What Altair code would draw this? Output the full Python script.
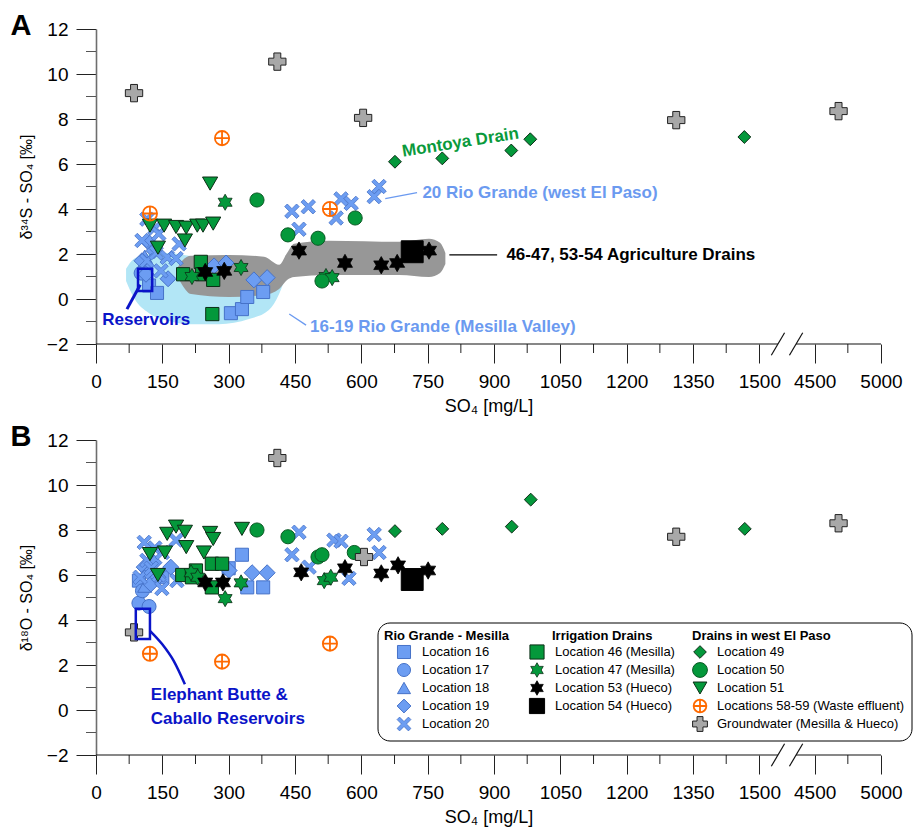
import altair as alt
import pandas as pd

# ------------------------------------------------------------------
# Values: SO4 [mg/L] and isotope value [permil]
# ------------------------------------------------------------------
GROUPS = ["Location 16", "Location 17", "Location 18", "Location 19", "Location 20",
          "Location 46 (Mesilla)", "Location 47 (Mesilla)", "Location 53 (Hueco)", "Location 54 (Hueco)",
          "Location 49", "Location 50", "Location 51",
          "Locations 58-59 (Waste effluent)", "Groundwater (Mesilla & Hueco)"]

# ---- Panel A: d34S-SO4 ----
A_16_so4 = [120, 138, 305, 330, 342, 378]
A_16_val = [0.6, 0.27, -0.63, -0.45, 0.09, 0.31]
A_17_so4 = [102, 112]
A_17_val = [1.15, 1.5]
A_18_so4 = [110]
A_18_val = [1.9]
A_19_so4 = [104, 113, 120, 131, 163, 267, 294, 357, 387]
A_19_val = [1.7, 1.1, 2.5, 2.15, 0.9, 1.47, 1.6, 0.85, 0.95]
A_20_so4 = [104, 115, 115, 133, 136, 142, 147, 161, 181, 188, 443, 459, 480, 543, 554, 577, 629, 640]
A_20_val = [2.6, 3.55, 1.7, 3.15, 2.05, 2.9, 1.25, 1.85, 1.8, 2.45, 3.9, 3.1, 4.1, 3.6, 4.45, 4.25, 4.55, 5.0]
A_46_so4 = [197, 237, 240, 263, 265]
A_46_val = [1.1, 1.65, 1.1, -0.67, 0.85]
A_47_so4 = [217, 292, 328, 520, 534]
A_47_val = [1.0, 4.3, 1.4, 1.0, 0.95]
A_53_so4 = [247, 290, 459, 563, 645, 681, 753]
A_53_val = [1.2, 1.25, 2.15, 1.6, 1.5, 1.6, 2.15]
A_54_so4 = [715]
A_54_val = [2.1]
A_49_so4 = [676, 783, 939, 982, 1466]
A_49_val = [6.1, 6.25, 6.6, 7.1, 7.2]
A_50_so4 = [364, 434, 502, 511, 586]
A_50_val = [4.4, 2.85, 2.7, 0.8, 3.6]
A_51_so4 = [122, 140, 154, 181, 201, 204, 229, 242, 258, 265]
A_51_val = [3.26, 2.28, 3.26, 3.2, 2.6, 3.17, 3.26, 3.26, 5.13, 3.35]
A_58_so4 = [122, 285, 529]
A_58_val = [3.8, 7.15, 4.0]
A_GW_so4 = [86, 410, 604, 1312, 4680]
A_GW_val = [9.15, 10.55, 8.05, 7.95, 8.35]

# ---- Panel B: d18O-SO4 ----
B_16_so4 = [97, 150, 300, 330, 342, 378]
B_16_val = [5.75, 5.9, 6.3, 6.9, 5.45, 5.45]
B_17_so4 = [97, 105, 120]
B_17_val = [4.75, 5.3, 4.6]
B_18_so4 = [110]
B_18_val = [5.5]
B_19_so4 = [109, 120, 124, 131, 140, 169, 301, 353, 387]
B_19_val = [6.35, 6.1, 5.6, 6.55, 5.9, 6.35, 6.2, 6.1, 6.1]
B_20_so4 = [100, 109, 115, 125, 133, 142, 149, 150, 181, 183, 443, 459, 482, 538, 554, 572, 629, 640]
B_20_val = [5.9, 7.45, 6.65, 6.3, 7.2, 6.0, 5.4, 7.0, 7.55, 5.75, 6.9, 7.9, 6.35, 7.55, 7.5, 5.85, 7.8, 7.0]
B_46_so4 = [195, 217, 226, 262, 262, 285]
B_46_val = [6.0, 5.9, 6.2, 6.5, 5.45, 6.5]
B_47_so4 = [215, 230, 292, 328, 516, 531]
B_47_val = [6.1, 5.9, 4.95, 5.65, 5.75, 5.9]
B_53_so4 = [247, 287, 464, 563, 645, 683, 751]
B_53_val = [5.67, 5.67, 6.12, 6.3, 6.07, 6.43, 6.2]
B_54_so4 = [715]
B_54_val = [5.8]
B_49_so4 = [676, 783, 940, 983, 1467]
B_49_val = [7.95, 8.05, 8.15, 9.35, 8.05]
B_50_so4 = [364, 434, 502, 511, 584]
B_50_val = [8.0, 7.7, 6.8, 6.9, 7.0]
B_51_so4 = [122, 140, 156, 161, 181, 201, 204, 244, 258, 265, 330]
B_51_val = [6.93, 6.0, 7.0, 7.83, 8.15, 7.92, 7.24, 7.0, 7.87, 7.6, 8.05]
B_58_so4 = [122, 285, 529]
B_58_val = [2.5, 2.15, 2.95]
B_GW_so4 = [86, 410, 606, 1312, 4680]
B_GW_val = [3.45, 11.2, 6.8, 7.7, 8.3]

# x tick labels (broken axis)
X_TICKS = [0, 150, 300, 450, 600, 750, 900, 1050, 1200, 1350, 1500, 4500, 5000]

# annotation outlines in panel A (SO4, delta)
BLUE_BLOB_X = [68, 86, 120, 165, 210, 278, 346, 391, 414, 423]
BLUE_BLOB_TOP = [1.34, 1.79, 2.0, 2.05, 1.92, 1.79, 1.56, 1.43, 1.25, 0.85]
BLUE_BLOB_BOT = [0.8, 0.04, -0.63, -0.98, -1.12, -1.12, -0.89, -0.49, 0.22, 0.67]
GRAY_BLOB_X = [183, 195, 215, 301, 380, 414, 432, 448, 527, 686, 753, 778, 790]
GRAY_BLOB_TOP = [1.34, 1.70, 1.92, 1.96, 1.875, 1.52, 2.05, 2.46, 2.59, 2.54, 2.68, 2.5, 2.05]
GRAY_BLOB_BOT = [1.07, 0.625, 0.22, 0.09, 0.18, 0.45, 0.85, 0.98, 1.07, 1.07, 0.98, 1.16, 1.56]

# ------------------------------------------------------------------
# Styling / layout
# ------------------------------------------------------------------
FONT = "Liberation Sans"
W, H = 785, 315
XMAX = 1775
LEFT = 97


def brk(v):
    """map SO4 onto the broken axis (linear to 1500, compressed 4500-5000)"""
    return v if v <= 1500 else 1625 + (v - 4500) * 0.3


def px2x(px):
    return (px - LEFT) * XMAX / W


def px2y(py, top):
    return 12 - (py - top) * 14 / H


BLUE, BLUE_D = "#6c9df2", "#4672c8"
GREEN, GREEN_D = "#04983b", "#0c2e16"
XPATH = "M-1,-0.64L-0.64,-1L0,-0.36L0.64,-1L1,-0.64L0.36,0L1,0.64L0.64,1L0,0.36L-0.64,1L-1,0.64L-0.36,0Z"
STAR = ("M0,-1L0.289,-0.5L0.866,-0.5L0.577,0L0.866,0.5L0.289,0.5L0,1L-0.289,0.5"
        "L-0.866,0.5L-0.577,0L-0.866,-0.5L-0.289,-0.5Z")
CPLUS = "M-0.9,0A0.9,0.9 0 1,1 0.9,0A0.9,0.9 0 1,1 -0.9,0ZM-0.9,0L0.9,0M0,-0.9L0,0.9"

SHAPES = ["square", "circle", "triangle-up", "diamond", XPATH, "square", STAR, STAR, "square",
          "diamond", "circle", "triangle-down", CPLUS, "cross"]
FILLS = [BLUE] * 5 + [GREEN, GREEN, "#000000", "#000000", GREEN, GREEN, GREEN, "transparent", "#a8a8a8"]
STROKES = [BLUE_D] * 5 + [GREEN_D, GREEN_D, "#000000", "#000000", GREEN_D, "#0b5a25", GREEN_D,
                          "#ff6a00", "#222222"]
PT_SIZE = [170, 196, 196, 256, 210, 175, 260, 300, 480, 165, 200, 230, 250, 300]
LG_SIZE = [170, 170, 170, 190, 190, 200, 210, 210, 230, 160, 220, 190, 200, 220]
SW = [1, 1, 1, 1, 0.8, 1, 0.8, 0.8, 1, 1, 1, 1, 1.8, 1]
DRAW_ORDER = [0, 1, 2, 3, 4, 5, 6, 9, 10, 11, 7, 8, 12, 13]

SHAPE = alt.Shape("group:N", scale=alt.Scale(domain=GROUPS, range=SHAPES), legend=None)
FILL = alt.Fill("group:N", scale=alt.Scale(domain=GROUPS, range=FILLS), legend=None)
STROKE = alt.Stroke("group:N", scale=alt.Scale(domain=GROUPS, range=STROKES), legend=None)


def points_df(sets):
    rows = []
    for gi in DRAW_ORDER:
        xs, ys = sets[gi]
        for a, b in zip(xs, ys):
            rows.append(dict(group=GROUPS[gi], xp=brk(a), yv=b, sz=PT_SIZE[gi], sw=SW[gi]))
    return pd.DataFrame(rows)


A_SETS = [(A_16_so4, A_16_val), (A_17_so4, A_17_val), (A_18_so4, A_18_val), (A_19_so4, A_19_val),
          (A_20_so4, A_20_val), (A_46_so4, A_46_val), (A_47_so4, A_47_val), (A_53_so4, A_53_val),
          (A_54_so4, A_54_val), (A_49_so4, A_49_val), (A_50_so4, A_50_val), (A_51_so4, A_51_val),
          (A_58_so4, A_58_val), (A_GW_so4, A_GW_val)]
B_SETS = [(B_16_so4, B_16_val), (B_17_so4, B_17_val), (B_18_so4, B_18_val), (B_19_so4, B_19_val),
          (B_20_so4, B_20_val), (B_46_so4, B_46_val), (B_47_so4, B_47_val), (B_53_so4, B_53_val),
          (B_54_so4, B_54_val), (B_49_so4, B_49_val), (B_50_so4, B_50_val), (B_51_so4, B_51_val),
          (B_58_so4, B_58_val), (B_GW_so4, B_GW_val)]

TICK_POS = [brk(v) for v in X_TICKS]
LABEL_EXPR = " : ".join(
    [f"datum.value == {brk(v)} ? '{v}'" for v in X_TICKS if v > 1500] + ["datum.label"])

XAXIS = alt.Axis(values=TICK_POS, labelExpr=LABEL_EXPR, format="d", domain=False, grid=False,
                 tickSize=19, tickColor="#222", tickWidth=1, labelFontSize=19, labelPadding=9,
                 labelOverlap=False, labelFlush=False, title="SO₄ [mg/L]", titleFontSize=18,
                 titleFontWeight="normal", titlePadding=6)


def yaxis(title):
    return alt.Axis(values=list(range(-2, 13, 2)), grid=False, domainColor="#6e6e6e", domainWidth=1.6,
                    tickSize=20, tickColor="#222", tickWidth=1, labelFontSize=19, labelPadding=8,
                    title=title, titleFontSize=16, titleFontWeight="normal", titlePadding=12)


def build_panel(sets, ytitle, letter, top_px, panel_a):
    X = alt.X("xp:Q", scale=alt.Scale(domain=[0, XMAX], nice=False, zero=False), axis=XAXIS)
    Y = alt.Y("yv:Q", scale=alt.Scale(domain=[-2, 12], nice=False, zero=False), axis=yaxis(ytitle))
    X2 = alt.X2("xp2:Q")
    Y2 = alt.Y2("yv2:Q")
    layers = []

    if panel_a:
        blue = pd.DataFrame({"xp": BLUE_BLOB_X, "yv": BLUE_BLOB_TOP, "yv2": BLUE_BLOB_BOT})
        layers.append(alt.Chart(blue).mark_area(color="#b2e6f6", interpolate="monotone")
                      .encode(x=X, y=Y, y2=Y2))
        gray = pd.DataFrame({"xp": GRAY_BLOB_X, "yv": GRAY_BLOB_TOP, "yv2": GRAY_BLOB_BOT})
        layers.append(alt.Chart(gray).mark_area(color="#979797", interpolate="monotone")
                      .encode(x=X, y=Y, y2=Y2))

    # minor ticks
    xminor = [75 + 150 * i for i in range(10)] + [brk(4750)]
    mx = pd.DataFrame({"xp": xminor, "yv": [-2] * len(xminor), "yv2": [-2 - 9 * 14 / H] * len(xminor)})
    layers.append(alt.Chart(mx).mark_rule(color="#222", strokeWidth=1).encode(x=X, y=Y, y2=Y2))
    yminor = list(range(-1, 12, 2))
    my = pd.DataFrame({"xp": [0] * len(yminor), "xp2": [-10 * XMAX / W] * len(yminor), "yv": yminor})
    layers.append(alt.Chart(my).mark_rule(color="#555", strokeWidth=1).encode(x=X, x2=X2, y=Y))

    # broken x-axis line and break marks
    ax = pd.DataFrame({"xp": [0, 1583, 1527, 1568], "xp2": [1542, XMAX, 1557, 1598],
                       "yv": [-2, -2, -2.5, -2.5], "yv2": [-2, -2, -1.5, -1.5]})
    layers.append(alt.Chart(ax).mark_rule(color="#111", strokeWidth=1.2)
                  .encode(x=X, x2=X2, y=Y, y2=Y2))

    # data points
    pts = points_df(sets)
    layers.append(alt.Chart(pts).mark_point(filled=True, opacity=1).encode(
        x=X, y=Y, shape=SHAPE, fill=FILL, stroke=STROKE,
        size=alt.Size("sz:Q", scale=None), strokeWidth=alt.StrokeWidth("sw:Q", scale=None)))

    RES = "#0a14c8"
    if panel_a:
        rect = pd.DataFrame({"xp": [95], "xp2": [127], "yv": [1.34], "yv2": [0.36]})
        layers.append(alt.Chart(rect).mark_rect(fill="transparent", stroke=RES, strokeWidth=2.5)
                      .encode(x=X, x2=X2, y=Y, y2=Y2))
        lead = pd.DataFrame({
            "xp": [100, 654, 799, 437],
            "xp2": [70, 726, 907, 475],
            "yv": [0.63, 4.46, 1.96, -0.67],
            "yv2": [-0.45, 4.73, 1.96, -1.16],
            "col": [RES, "#6b9af0", "#000000", "#6b9af0"],
            "w": [3, 1.3, 1.3, 1.3]})
        layers.append(alt.Chart(lead).mark_rule().encode(
            x=X, x2=X2, y=Y, y2=Y2, color=alt.Color("col:N", scale=None),
            strokeWidth=alt.StrokeWidth("w:Q", scale=None)))
        notes = pd.DataFrame({
            "xp": [14, 738, 928, 484],
            "yv": [-0.94, 4.73, 1.96, -1.25],
            "txt": ["Reservoirs", "20 Rio Grande (west El Paso)", "46-47, 53-54 Agriculture Drains",
                    "16-19 Rio Grande (Mesilla Valley)"],
            "col": [RES, "#6b9af0", "#000000", "#6b9af0"]})
        layers.append(alt.Chart(notes).mark_text(align="left", baseline="middle", font=FONT,
                                                 fontSize=17, fontWeight="bold")
                      .encode(x=X, y=Y, text="txt:N", color=alt.Color("col:N", scale=None)))
        mont = pd.DataFrame({"xp": [824], "yv": [6.95], "txt": ["Montoya Drain"]})
        layers.append(alt.Chart(mont).mark_text(align="center", baseline="middle", font=FONT,
                                                fontSize=17, fontWeight="bold", angle=351,
                                                color="#0a9a3c")
                      .encode(x=X, y=Y, text="txt:N"))
    else:
        rect = pd.DataFrame({"xp": [90], "xp2": [122], "yv": [4.5], "yv2": [3.16]})
        layers.append(alt.Chart(rect).mark_rect(fill="transparent", stroke=RES, strokeWidth=2.5)
                      .encode(x=X, x2=X2, y=Y, y2=Y2))
        curve = pd.DataFrame({"xp": [122, 149, 176, 201], "yv": [3.52, 2.94, 2.17, 1.14],
                              "o": [0, 1, 2, 3]})
        layers.append(alt.Chart(curve).mark_line(color=RES, strokeWidth=2.5, interpolate="monotone")
                      .encode(x=X, y=Y, order="o:Q"))
        notes = pd.DataFrame({"xp": [124, 124], "yv": [0.65, -0.38],
                              "txt": ["Elephant Butte &", "Caballo Reservoirs"]})
        layers.append(alt.Chart(notes).mark_text(align="left", baseline="middle", font=FONT,
                                                 fontSize=17, fontWeight="bold", color=RES)
                      .encode(x=X, y=Y, text="txt:N"))

        # legend box
        box = pd.DataFrame({"a": [0]})
        layers.append(alt.Chart(box).mark_rect(cornerRadius=12, fill="white", stroke="#000",
                                               strokeWidth=1)
                      .encode(x=alt.value(379 - LEFT), x2=alt.value(913 - LEFT),
                              y=alt.value(624 - top_px), y2=alt.value(742 - top_px)))
        heads = pd.DataFrame({"xp": [px2x(385), px2x(553), px2x(693)],
                              "yv": [px2y(637, top_px)] * 3,
                              "txt": ["Rio Grande - Mesilla", "Irrigation Drains", "Drains in west El Paso"]})
        layers.append(alt.Chart(heads).mark_text(align="left", baseline="middle", font=FONT,
                                                 fontSize=13, fontWeight="bold", color="#000")
                      .encode(x=X, y=Y, text="txt:N"))
        rows_y = [653, 671, 689, 707, 725]
        cols = [(405, 423, [0, 1, 2, 3, 4]), (538, 556, [5, 6, 7, 8]), (701, 718, [9, 10, 11, 12, 13])]
        lrows = []
        for sx, tx, gis in cols:
            for r, gi in enumerate(gis):
                lrows.append(dict(group=GROUPS[gi], xp=px2x(sx), xt=px2x(tx), yv=px2y(rows_y[r], top_px),
                                  sz=LG_SIZE[gi], sw=SW[gi], txt=GROUPS[gi]))
        leg = pd.DataFrame(lrows)
        layers.append(alt.Chart(leg).mark_point(filled=True, opacity=1).encode(
            x=X, y=Y, shape=SHAPE, fill=FILL, stroke=STROKE,
            size=alt.Size("sz:Q", scale=None), strokeWidth=alt.StrokeWidth("sw:Q", scale=None)))
        legt = leg[["xt", "yv", "txt"]].rename(columns={"xt": "xp"})
        layers.append(alt.Chart(legt).mark_text(align="left", baseline="middle", font=FONT,
                                                fontSize=13, color="#000")
                      .encode(x=X, y=Y, text="txt:N"))

    # panel letter
    lt = pd.DataFrame({"t": [letter]})
    layers.append(alt.Chart(lt).mark_text(font=FONT, fontSize=29, fontWeight="bold", color="#000",
                                          align="center", baseline="middle")
                  .encode(text="t:N", x=alt.value(-75), y=alt.value(-3)))

    return alt.layer(*layers).properties(width=W, height=H)


panel_a = build_panel(A_SETS, "δ³⁴S - SO₄ [‰]", "A", 28, True)
panel_b = build_panel(B_SETS, "δ¹⁸O - SO₄ [‰]", "B", 441, False)

chart = (alt.vconcat(panel_a, panel_b, spacing=8)
         .properties(padding={"left": 10, "top": 12, "right": 2, "bottom": 4}, background="white")
         .configure_view(stroke=None)
         .configure_axis(labelFont=FONT, titleFont=FONT, labelColor="#000", titleColor="#000"))

chart.save("out.html", embed_options={"renderer": "svg", "actions": False})
